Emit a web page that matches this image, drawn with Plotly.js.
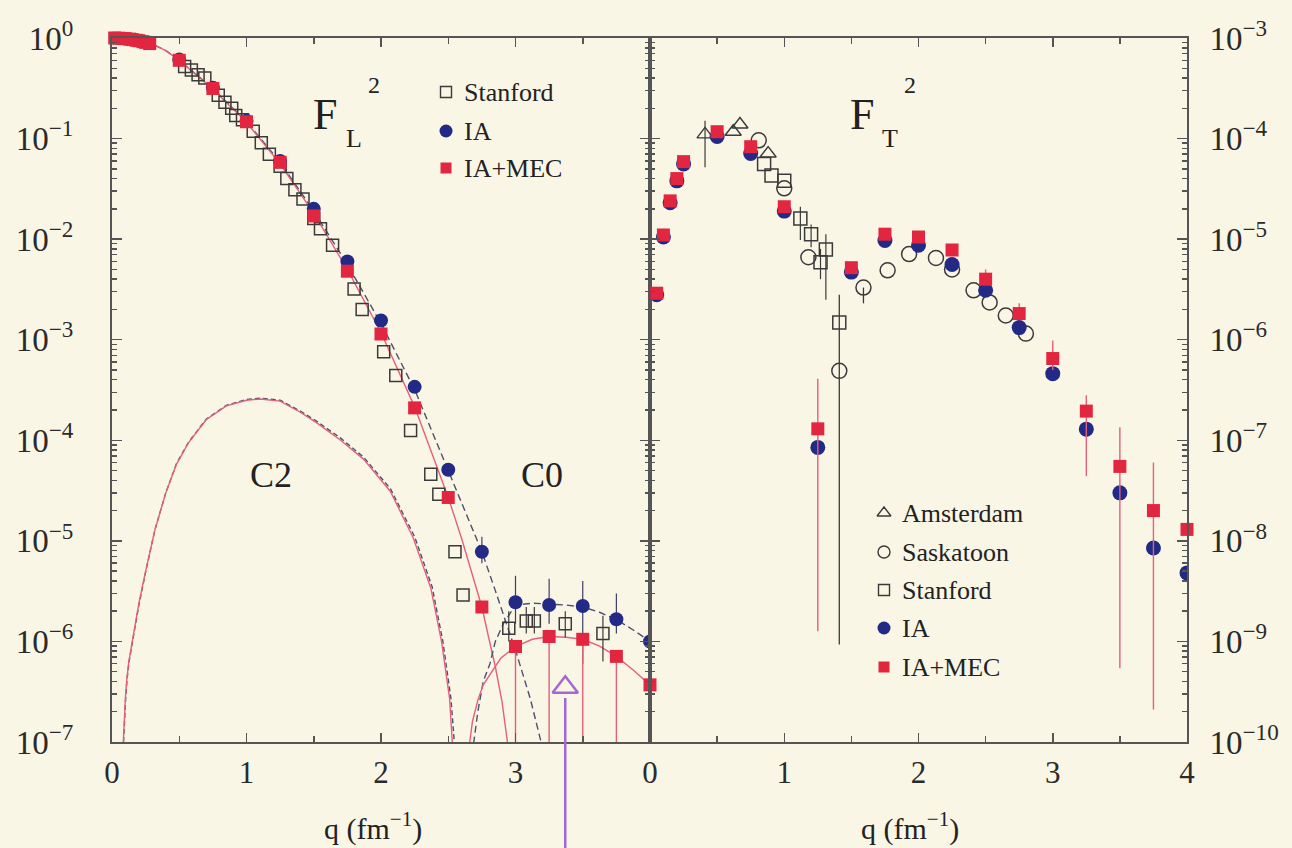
<!DOCTYPE html>
<html>
<head>
<meta charset="utf-8">
<script src="https://cdn.plot.ly/plotly-3.0.1.min.js"></script>
<style>
html,body{margin:0;padding:0;background:#faf6e6;}
#chart{width:1292px;height:848px;}
</style>
</head>
<body>
<div id="chart"></div>
<script>
// ================= DATA =================
// ---- Left panel: F_L^2 (longitudinal) ----
const flStanfordQ = [0.54,0.59,0.64,0.69,0.79,0.84,0.89,0.92,0.97,1.05,1.11,1.17,1.25,1.30,1.36,1.42,1.50,1.55,1.64,1.80,1.86,2.02,2.11,2.22,2.37,2.43,2.55,2.61,2.95,3.08,3.14,3.37,3.65];
const flStanfordV = [0.52,0.48,0.43,0.40,0.27,0.23,0.20,0.17,0.154,0.118,0.091,0.070,0.053,0.040,0.031,0.025,0.016,0.0127,0.0087,0.0032,0.0020,7.6e-4,4.4e-4,1.25e-4,4.6e-5,2.9e-5,7.8e-6,2.9e-6,1.35e-6,1.6e-6,1.6e-6,1.5e-6,1.2e-6];
const flStanfordHi = [null,null,null,null,null,null,null,null,null,null,null,null,null,null,null,null,null,null,null,null,null,null,null,null,null,null,null,null,2.0e-6,2.2e-6,2.2e-6,2.0e-6,1.8e-6];
const flStanfordLo = [null,null,null,null,null,null,null,null,null,null,null,null,null,null,null,null,null,null,null,null,null,null,null,null,null,null,null,null,1.0e-6,1.2e-6,1.2e-6,1.1e-6,6.3e-7];

const flIaQ = [0.5,0.75,1.0,1.25,1.5,1.75,2.0,2.25,2.5,2.75,3.0,3.25,3.5,3.75,4.0];
const flIaV = [0.61,0.32,0.15,0.06,0.020,0.0060,0.00155,3.4e-4,5.1e-5,7.8e-6,2.45e-6,2.3e-6,2.25e-6,1.66e-6,1.0e-6];
const flIaHi = [null,null,null,null,null,null,null,null,null,1.1e-5,4.5e-6,4.2e-6,4.0e-6,3.0e-6,null];
const flIaLo = [null,null,null,null,null,null,null,null,null,6.0e-6,1.5e-6,1.5e-6,6.0e-7,1.2e-6,null];

const flMecQ = [0.02,0.05,0.08,0.10,0.13,0.15,0.18,0.20,0.23,0.25,0.28,0.5,0.75,1.0,1.25,1.5,1.75,2.0,2.25,2.5,2.75,3.0,3.25,3.5,3.75,4.0];
const flMecV = [1.0,0.995,0.99,0.985,0.975,0.965,0.95,0.94,0.92,0.905,0.88,0.60,0.315,0.147,0.058,0.017,0.0048,0.00114,2.1e-4,2.7e-5,2.2e-6,8.9e-7,1.12e-6,1.05e-6,7.1e-7,3.7e-7];
const flMecLo = [null,null,null,null,null,null,null,null,null,null,null,null,null,null,null,null,null,null,null,null,null,1e-9,1e-9,1e-9,1e-9,null];

// theory curves (left panel)
const curveMecTotQ = [0,0.1,0.2,0.3,0.4,0.5,0.75,1.0,1.25,1.5,1.75,2.0,2.25,2.5,2.6,2.7,2.75,2.8,2.85,2.9,2.94,2.97];
const curveMecTotV = [1,0.985,0.94,0.87,0.75,0.6,0.31,0.145,0.056,0.018,0.0050,0.00118,2.15e-4,2.7e-5,1.05e-5,3.6e-6,2.2e-6,1.1e-6,5.6e-7,2.5e-7,1e-7,1e-8];
const curveIaTotQ = [0,0.1,0.2,0.3,0.4,0.5,0.75,1.0,1.25,1.5,1.75,2.0,2.25,2.5,2.75,2.85,2.95,3.01,3.11,3.19,3.23];
const curveIaTotV = [1,0.985,0.94,0.87,0.75,0.6,0.315,0.148,0.058,0.019,0.0056,0.00145,3.2e-4,5.0e-5,7.8e-6,3.2e-6,1.26e-6,7.4e-7,2.7e-7,1e-7,1e-8];
const curveC2MecQ = [0.084,0.092,0.1,0.11,0.125,0.156,0.2,0.25,0.32,0.4,0.48,0.57,0.7,0.85,1.0,1.1,1.25,1.4,1.52,1.7,1.87,2.07,2.24,2.37,2.45,2.51,2.53,2.55];
const curveC2MecV = [1e-7,1.8e-7,2.8e-7,4.2e-7,6.3e-7,1.1e-6,2.4e-6,5e-6,1.3e-5,3.0e-5,5.8e-5,9.5e-5,1.6e-4,2.2e-4,2.5e-4,2.57e-4,2.45e-4,1.9e-4,1.5e-4,1.0e-4,6.5e-5,3.1e-5,1.07e-5,3.4e-6,1.0e-6,2.7e-7,1e-7,1e-8];
const curveC2IaQ = [0.086,0.094,0.102,0.112,0.127,0.158,0.2,0.25,0.32,0.4,0.48,0.57,0.7,0.85,1.0,1.1,1.25,1.4,1.52,1.7,1.87,2.07,2.25,2.38,2.46,2.52,2.545,2.565];
const curveC2IaV = [1e-7,1.8e-7,2.8e-7,4.2e-7,6.3e-7,1.1e-6,2.3e-6,4.9e-6,1.3e-5,3.0e-5,5.9e-5,9.6e-5,1.62e-4,2.22e-4,2.55e-4,2.62e-4,2.5e-4,1.95e-4,1.55e-4,1.05e-4,6.8e-5,3.3e-5,1.1e-5,3.5e-6,1.0e-6,2.7e-7,1e-7,1e-8];
const curveC2bMecQ = [2.65,2.66,2.68,2.72,2.76,2.89,3.0,3.125,3.25,3.375,3.5,3.625,3.75,3.875,4.0];
const curveC2bMecV = [1e-8,1e-7,1.6e-7,2.6e-7,3.7e-7,6.8e-7,8.9e-7,1.05e-6,1.12e-6,1.1e-6,1.05e-6,9e-7,7.1e-7,5.2e-7,3.7e-7];
const curveC2bIaQ = [2.68,2.69,2.72,2.76,2.81,2.85,2.91,3.0,3.125,3.25,3.375,3.5,3.625,3.75,3.875,4.0];
const curveC2bIaV = [1e-8,1e-7,2e-7,4e-7,6e-7,1e-6,1.5e-6,2.3e-6,2.4e-6,2.35e-6,2.3e-6,2.2e-6,1.95e-6,1.65e-6,1.3e-6,1.0e-6];

// annotation mark (purple triangle drawn on the scan)
const markQ = [3.37];
const markV = [3.5e-7];

// ---- Right panel: F_T^2 (transverse) ----
const ftAmsQ = [0.41,0.62,0.67,0.88];
const ftAmsV = [1.1e-4,1.17e-4,1.38e-4,7.1e-5];
const ftAmsHi = [1.5e-4,null,null,null];
const ftAmsLo = [5.2e-5,null,null,null];

const ftSasQ = [0.81,1.0,1.18,1.41,1.59,1.77,1.93,2.13,2.25,2.41,2.53,2.65,2.80];
const ftSasV = [9.6e-5,3.2e-5,6.6e-6,4.9e-7,3.3e-6,4.9e-6,7.1e-6,6.5e-6,5.0e-6,3.1e-6,2.35e-6,1.74e-6,1.15e-6];
const ftSasHi = [null,null,null,2.8e-6,null,null,null,null,null,null,null,null,null];
const ftSasLo = [null,null,null,9.3e-10,2.3e-6,null,null,null,null,null,null,null,null];

const ftStanQ = [0.85,0.905,1.0,1.12,1.20,1.27,1.31,1.41];
const ftStanV = [5.6e-5,4.3e-5,3.8e-5,1.6e-5,1.12e-5,5.9e-6,7.9e-6,1.48e-6];
const ftStanHi = [null,null,null,2.1e-5,1.4e-5,8e-6,1.12e-5,null];
const ftStanLo = [null,null,null,9.8e-6,8.3e-6,4e-6,2.5e-6,null];

const ftQ = [0.05,0.1,0.15,0.2,0.25,0.5,0.75,1.0,1.25,1.5,1.75,2.0,2.25,2.5,2.75,3.0,3.25,3.5,3.75,4.0];
const ftIaV = [2.8e-6,1.05e-5,2.3e-5,3.8e-5,5.6e-5,1.05e-4,7.1e-5,1.9e-5,8.5e-8,4.7e-6,9.7e-6,8.7e-6,5.6e-6,3.1e-6,1.32e-6,4.6e-7,1.29e-7,3.0e-8,8.5e-9,4.8e-9];
const ftMecV = [2.9e-6,1.1e-5,2.4e-5,4.0e-5,5.9e-5,1.17e-4,8.3e-5,2.1e-5,1.3e-7,5.2e-6,1.12e-5,1.05e-5,7.8e-6,4.0e-6,1.82e-6,6.5e-7,1.95e-7,5.5e-8,2.0e-8,1.3e-8];
const ftMecHi = [null,null,null,null,null,null,null,null,4.1e-7,null,null,null,null,5.0e-6,2.3e-6,9.8e-7,2.8e-7,1.35e-7,6.0e-8,null];
const ftMecLo = [null,null,null,null,null,null,null,null,1.26e-9,null,null,null,null,null,null,5.0e-7,4.4e-8,5.4e-10,2.1e-10,null];

// tick labels
const xTicksL = [0,1,2,3,4];
const xTextL = ['0','1','2','3',''];
const xTicksR = [0,1,2,3,4];
const xTextR = ['0','1','2','3','4'];
const yExpL = [-7,-6,-5,-4,-3,-2,-1,0];
const yExpR = [-10,-9,-8,-7,-6,-5,-4,-3];

// legend labels
const legendLeftNames = ['Stanford','IA','IA+MEC'];
const legendRightNames = ['Amsterdam','Saskatoon','Stanford','IA','IA+MEC'];

// ================= STYLE / BUILD =================
const W = 1292, H = 848;
const PL = 112, PM = 650, PR = 1187, PT = 38, PB = 742;
const FONT = 'Liberation Serif';
const BG = '#faf6e6';
const RED = '#e3263f', BLUE = '#232a86', DARK = '#3a3a3a';
const RLINE = '#e5607a', DLINE = '#4b5070';

// legend key layout (page pixels)
const LEG_L = {keyX:446, textX:462, rows:[92,131,168]};
const LEG_R = {keyX:884, textX:900, rows:[513,552,590,628,667]};
const keyStyleL = [
  {symbol:'square-open', size:11, color:DARK, line:{width:1.4, color:DARK}},
  {symbol:'circle', size:13, color:BLUE},
  {symbol:'square', size:11, color:RED}
];
const keyStyleR = [
  {symbol:'triangle-up-open', size:12, color:DARK, line:{width:1.4, color:DARK}},
  {symbol:'circle-open', size:12, color:DARK, line:{width:1.4, color:DARK}},
  {symbol:'square-open', size:11, color:DARK, line:{width:1.4, color:DARK}},
  {symbol:'circle', size:13, color:BLUE},
  {symbol:'square', size:11, color:RED}
];

function errs(v, hi, lo) {
  const plus = v.map((y,i) => (hi && hi[i] != null) ? hi[i]-y : 0);
  const minus = v.map((y,i) => (lo && lo[i] != null) ? y-lo[i] : 0);
  return {plus, minus};
}
function errBar(v, hi, lo, color, th) {
  const e = errs(v, hi, lo);
  return {type:'data', symmetric:false, array:e.plus, arrayminus:e.minus, color:color, thickness:th||1.4, width:0};
}
const pow10 = e => Math.pow(10, e);
const supTxt = e => '10<sup>' + (e < 0 ? '\u2212' + (-e) : e) + '</sup>';
function minorLog(exps) {
  const out = [];
  for (let k = 0; k < exps.length - 1; k++) for (let m = 2; m <= 9; m++) out.push(m * pow10(exps[k]));
  return out;
}

const traces = [];
function line(q, v, color, dash, xa, ya) {
  traces.push({x:q, y:v, mode:'lines', line:{color:color, width:1.4, dash:dash||'solid'}, xaxis:xa, yaxis:ya, showlegend:false, hoverinfo:'skip'});
}
// Left panel curves
line(curveC2IaQ, curveC2IaV, DLINE, '5px,3px', 'x', 'y');
line(curveC2MecQ, curveC2MecV, RLINE, 'solid', 'x', 'y');
line(curveIaTotQ, curveIaTotV, DLINE, '7px,4px', 'x', 'y');
line(curveMecTotQ, curveMecTotV, RLINE, 'solid', 'x', 'y');
line(curveC2bIaQ, curveC2bIaV, DLINE, '7px,4px', 'x', 'y');
line(curveC2bMecQ, curveC2bMecV, RLINE, 'solid', 'x', 'y');

// Left panel data
traces.push({x:flStanfordQ, y:flStanfordV, mode:'markers', name:'Stanford', xaxis:'x', yaxis:'y', showlegend:false,
  marker:{symbol:'square-open', size:12, color:DARK, line:{width:1.5, color:DARK}},
  error_y:errBar(flStanfordV, flStanfordHi, flStanfordLo, DARK, 1.2)});
traces.push({x:flIaQ, y:flIaV, mode:'markers', name:'IA', xaxis:'x', yaxis:'y', showlegend:false,
  marker:{symbol:'circle', size:14, color:BLUE},
  error_y:errBar(flIaV, flIaHi, flIaLo, '#3d3d6a', 1.2)});
traces.push({x:flMecQ, y:flMecV, mode:'markers', name:'IA+MEC', xaxis:'x', yaxis:'y', showlegend:false, cliponaxis:false,
  marker:{symbol:'square', size:13, color:RED},
  error_y:errBar(flMecV, null, flMecLo, RLINE, 1.4)});
traces.push({x:markQ, y:markV, mode:'markers', xaxis:'x', yaxis:'y', showlegend:false,
  marker:{symbol:'triangle-up-open', size:22, color:'#a468d2', line:{width:2.5, color:'#a468d2'}}});

// Right panel data
traces.push({x:ftAmsQ, y:ftAmsV, mode:'markers', name:'Amsterdam', xaxis:'x2', yaxis:'y2', showlegend:false,
  marker:{symbol:'triangle-up-open', size:14, color:DARK, line:{width:1.4, color:DARK}},
  error_y:errBar(ftAmsV, ftAmsHi, ftAmsLo, DARK, 1.2)});
traces.push({x:ftSasQ, y:ftSasV, mode:'markers', name:'Saskatoon', xaxis:'x2', yaxis:'y2', showlegend:false,
  marker:{symbol:'circle-open', size:15, color:DARK, line:{width:1.5, color:DARK}},
  error_y:errBar(ftSasV, ftSasHi, ftSasLo, DARK, 1.3)});
traces.push({x:ftStanQ, y:ftStanV, mode:'markers', name:'Stanford', xaxis:'x2', yaxis:'y2', showlegend:false,
  marker:{symbol:'square-open', size:13, color:DARK, line:{width:1.5, color:DARK}},
  error_y:errBar(ftStanV, ftStanHi, ftStanLo, DARK, 1.2)});
traces.push({x:ftQ, y:ftIaV, mode:'markers', name:'IA', xaxis:'x2', yaxis:'y2', showlegend:false,
  marker:{symbol:'circle', size:15, color:BLUE}});
traces.push({x:ftQ, y:ftMecV, mode:'markers', name:'IA+MEC', xaxis:'x2', yaxis:'y2', showlegend:false, cliponaxis:false,
  marker:{symbol:'square', size:13, color:RED},
  error_y:errBar(ftMecV, ftMecHi, ftMecLo, RLINE, 1.4)});

// Legend keys (drawn on a hidden full-page overlay axis in pixel units)
function legendKeys(leg, styles) {
  styles.forEach((st, i) => {
    traces.push({x:[leg.keyX], y:[leg.rows[i]], mode:'markers', xaxis:'x3', yaxis:'y3', showlegend:false, hoverinfo:'skip', cliponaxis:false, marker:st});
  });
}
legendKeys(LEG_L, keyStyleL);
legendKeys(LEG_R, keyStyleR);

const axLine = {showline:true, linecolor:'#555', linewidth:2, mirror:'ticks', ticks:'inside', tickcolor:'#555', tickwidth:1.5, showgrid:false, zeroline:false};
const px = x => x / W, py = y => 1 - y / H;
function txt(t, x, y, size, anchor) {
  return {text:t, x:px(x), y:py(y), xref:'paper', yref:'paper', xanchor:anchor||'center', yanchor:'middle', showarrow:false, font:{size:size, family:FONT, color:'#222'}};
}

const annotations = [
  txt('F', 325, 114, 44), txt('L', 354, 138, 26), txt('2', 374, 85, 24),
  txt('F', 862, 114, 44), txt('T', 890, 138, 26), txt('2', 910, 85, 24),
  txt('C2', 271, 475, 36), txt('C0', 542, 475, 36),
  txt('q (fm<sup>\u22121</sup>)', 373, 826, 30),
  txt('q (fm<sup>\u22121</sup>)', 910, 826, 30)
];
legendLeftNames.forEach((n, i) => annotations.push(txt(n, LEG_L.textX, LEG_L.rows[i], 26, 'left')));
legendRightNames.forEach((n, i) => annotations.push(txt(n, LEG_R.textX, LEG_R.rows[i], 26, 'left')));

const layout = {
  width:W, height:H, margin:{l:0, r:0, t:0, b:0},
  paper_bgcolor:BG, plot_bgcolor:'rgba(0,0,0,0)',
  font:{family:FONT, size:20, color:'#2a2a2a'},
  showlegend:false,
  xaxis:Object.assign({}, axLine, {domain:[px(PL), px(PM)], range:[0,4], anchor:'y', tickmode:'array', tickvals:xTicksL, ticktext:xTextL, ticklen:9,
    minor:{tickvals:[0.5,1.5,2.5,3.5], ticklen:6, ticks:'inside', tickcolor:'#555'}, tickfont:{size:31, family:FONT}, ticklabelstandoff:2}),
  yaxis:Object.assign({}, axLine, {domain:[py(PB), py(PT)], type:'log', range:[-7,0], anchor:'x', tickmode:'array',
    tickvals:yExpL.map(pow10), ticktext:yExpL.map(supTxt), ticklen:10,
    minor:{tickvals:minorLog(yExpL), ticklen:5, ticks:'inside', tickcolor:'#555'}, tickfont:{size:33, family:FONT}, ticklabelstandoff:30}),
  xaxis2:Object.assign({}, axLine, {domain:[px(PM), px(PR)], range:[0,4], anchor:'y2', tickmode:'array', tickvals:xTicksR, ticktext:xTextR, ticklen:9,
    minor:{tickvals:[0.5,1.5,2.5,3.5], ticklen:6, ticks:'inside', tickcolor:'#555'}, tickfont:{size:31, family:FONT}, ticklabelstandoff:2}),
  yaxis2:Object.assign({}, axLine, {domain:[py(PB), py(PT)], type:'log', range:[-10,-3], anchor:'x2', side:'right', tickmode:'array',
    tickvals:yExpR.map(pow10), ticktext:yExpR.map(supTxt), ticklen:10,
    minor:{tickvals:minorLog(yExpR), ticklen:5, ticks:'inside', tickcolor:'#555'}, tickfont:{size:33, family:FONT}, ticklabelstandoff:14}),
  xaxis3:{domain:[0,1], range:[0,W], anchor:'y3', visible:false, fixedrange:true},
  yaxis3:{domain:[0,1], range:[H,0], anchor:'x3', visible:false, fixedrange:true},
  shapes:[
    {type:'line', xref:'x', yref:'paper', x0:markQ[0], x1:markQ[0], y0:py(848), y1:py(698), line:{color:'#a468d2', width:2.5}, layer:'above'}
  ],
  annotations:annotations
};

Plotly.newPlot('chart', traces, layout, {staticPlot:true, displayModeBar:false});
</script>
</body>
</html>
